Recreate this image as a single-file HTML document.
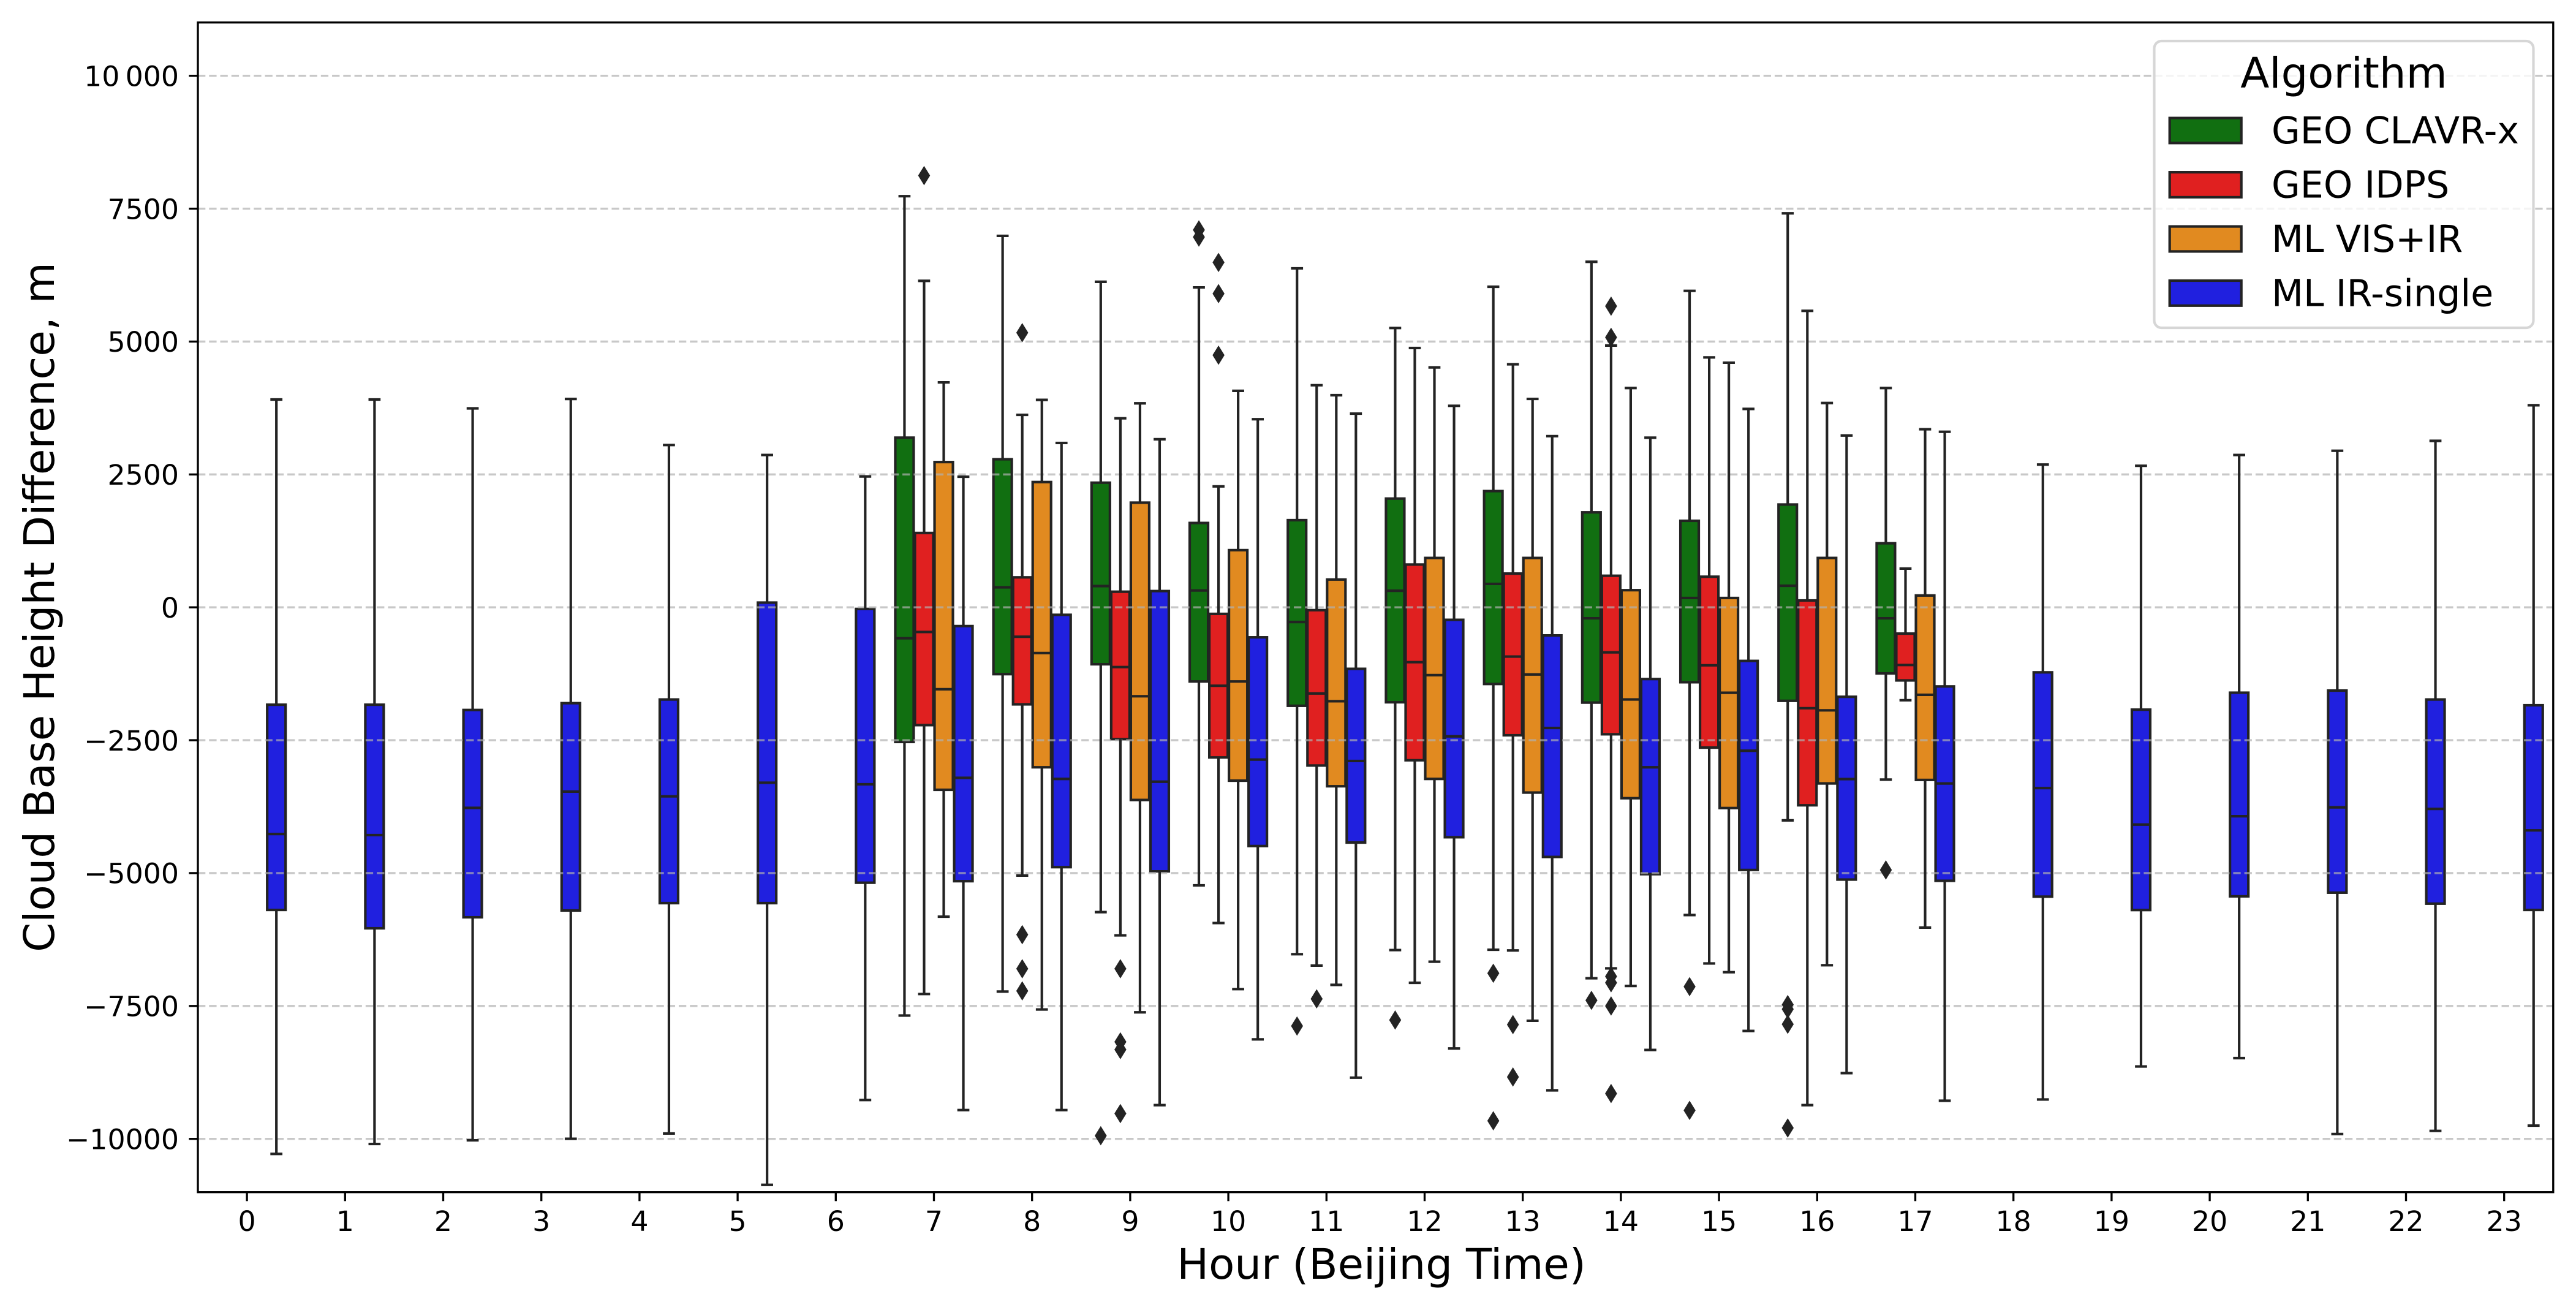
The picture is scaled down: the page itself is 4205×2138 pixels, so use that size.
<!DOCTYPE html>
<html lang="en">
<head>
<meta charset="utf-8">
<title>Cloud Base Height Difference by Hour</title>
<style>
  html, body { margin: 0; padding: 0; background: #fff; }
  svg { display: block; }
  text { font-family: "DejaVu Sans", "Liberation Sans", sans-serif; fill: #000; }
</style>
</head>
<body>
<svg id="chart" xmlns="http://www.w3.org/2000/svg" width="4205" height="2138" viewBox="0 0 4205 2138">
  <rect x="0" y="0" width="4205" height="2138" fill="#ffffff"/>
  <g id="box-layer"></g>
  <g id="grid-layer"></g>
  <g id="line-layer"></g>
  <rect x="323" y="36.7" width="3844.8" height="1909" fill="none" stroke="#000" stroke-width="3.33"/>
  <g id="x-axis"></g>
  <g id="y-axis"></g>
  <text x="2255" y="2087" font-size="69" text-anchor="middle">Hour (Beijing Time)</text>
  <text transform="translate(88 991) rotate(-90)" font-size="69" text-anchor="middle">Cloud Base Height Difference, m</text>
  <g>
    <rect x="3516.5" y="67" width="619" height="468" rx="12" ry="12" fill="#ffffff" fill-opacity="0.8" stroke="#cccccc" stroke-opacity="0.8" stroke-width="4.17"/>
    <text x="3826" y="143" font-size="68.9" text-anchor="middle">Algorithm</text>
    <g>
      <rect x="3541.7" y="192.6" width="117" height="40.8" fill="#116f11" stroke="#232323" stroke-width="4.17"/>
      <text x="3708" y="234" font-size="60.3">GEO CLAVR-x</text>
    </g>
    <g>
      <rect x="3541.7" y="281.1" width="117" height="40.8" fill="#e02020" stroke="#232323" stroke-width="4.17"/>
      <text x="3708" y="322.5" font-size="60.3">GEO IDPS</text>
    </g>
    <g>
      <rect x="3541.7" y="369.6" width="117" height="40.8" fill="#e18a20" stroke="#232323" stroke-width="4.17"/>
      <text x="3708" y="411" font-size="60.3">ML VIS+IR</text>
    </g>
    <g>
      <rect x="3541.7" y="458" width="117" height="40.8" fill="#2020df" stroke="#232323" stroke-width="4.17"/>
      <text x="3708" y="499.5" font-size="60.3">ML IR-single</text>
    </g>
  </g>
</svg>
<script>
// ---- Categories and tick labels ----
const allHours = [0,1,2,3,4,5,6,7,8,9,10,11,12,13,14,15,16,17,18,19,20,21,22,23];
const daytimeHours = [7,8,9,10,11,12,13,14,15,16,17];
const yTickValues = [10000,7500,5000,2500,0,-2500,-5000,-7500,-10000];
const yTickLabels = ["10\u2009000","7500","5000","2500","0","\u22122500","\u22125000","\u22127500","\u221210000"];

// ---- GEO CLAVR-x (hours 7-17) ----
const clavrLow    = [-7680,-7229,-5734,-5230,-6526,-6448,-6442,-6978,-5789,-4008,-3241];
const clavrQ1     = [-2533,-1257,-1071,-1395,-1852,-1786,-1442,-1792,-1409,-1759,-1243];
const clavrMedian = [-582,376,400,317,-276,312,441,-206,176,406,-206];
const clavrQ3     = [3192,2786,2345,1587,1640,2046,2187,1787,1628,1934,1205];
const clavrHigh   = [7735,6989,6125,6019,6378,5255,6031,6501,5954,7412,4126];
const clavrOutlierHours  = [9,10,10,11,12,13,13,14,15,15,16,16,16,16,17];
const clavrOutlierValues = [-9941,7101,6966,-7877,-7764,-6884,-9660,-7394,-7136,-9464,-7474,-7560,-7844,-9795,-4941];

// ---- GEO IDPS (hours 7-17) ----
const idpsLow    = [-7275,-5046,-6171,-5939,-6740,-7064,-6455,-6792,-6700,-9365,-1748];
const idpsQ1     = [-2216,-1825,-2480,-2824,-2976,-2877,-2407,-2388,-2639,-3724,-1375];
const idpsMedian = [-464,-553,-1124,-1475,-1620,-1032,-926,-847,-1091,-1898,-1085];
const idpsQ3     = [1399,564,294,-123,-53,805,635,594,576,129,-494];
const idpsHigh   = [6142,3621,3556,2275,4179,4879,4573,4926,4702,5578,729];
const idpsOutlierHours  = [7,8,8,8,8,9,9,9,9,10,10,10,11,13,13,14,14,14,14,14,14];
const idpsOutlierValues = [8123,5167,-6158,-6799,-7216,-6799,-8175,-8320,-9524,6489,5902,4744,-7366,-7850,-8836,5666,5079,-6944,-7063,-7500,-9147];

// ---- ML VIS+IR (hours 7-17) ----
const visLow    = [-5820,-7566,-7619,-7183,-7103,-6667,-7778,-7123,-6864,-6733,-6025];
const visQ1     = [-3433,-3009,-3624,-3261,-3366,-3228,-3485,-3591,-3776,-3313,-3247];
const visMedian = [-1541,-860,-1673,-1395,-1766,-1276,-1263,-1733,-1607,-1938,-1645];
const visQ3     = [2733,2357,1969,1076,523,929,929,323,176,929,223];
const visHigh   = [4232,3903,3838,4073,3991,4514,3921,4126,4602,3844,3350];

// ---- ML IR-single (hours 0-23) ----
const irLow    = [-10283,-10096,-10027,-9998,-9899,-10865,-9269,-9458,-9458,-9365,-8128,-8849,-8300,-9087,-8327,-7970,-8763,-9283,-9259,-8638,-8481,-9909,-9850,-9751];
const irQ1     = [-5693,-6038,-5831,-5703,-5565,-5565,-5181,-5152,-4888,-4967,-4491,-4425,-4325,-4696,-5020,-4941,-5122,-5145,-5443,-5695,-5437,-5368,-5575,-5693];
const irMedian = [-4265,-4285,-3773,-3467,-3556,-3300,-3329,-3208,-3228,-3280,-2864,-2890,-2427,-2269,-3009,-2698,-3231,-3314,-3400,-4087,-3930,-3763,-3792,-4196];
const irQ3     = [-1832,-1832,-1931,-1803,-1734,89,-30,-353,-141,306,-564,-1157,-235,-529,-1349,-1008,-1683,-1488,-1223,-1925,-1606,-1566,-1734,-1842];
const irHigh   = [3910,3910,3743,3920,3053,2866,2462,2457,3092,3162,3539,3644,3791,3221,3192,3733,3233,3303,2686,2663,2866,2945,3132,3802];

// ---- Axis functions ----
const NS = "http://www.w3.org/2000/svg";
function xScale(hour) { return 403.1 + 160.2 * hour; }
function yScale(value) { return 991.2 - value * 0.08675; }

const LW = 4.17;
const EDGE = "#232323";
const BOX_W = 30;
const CAP_W = 15.5;

const boxLayer = document.getElementById("box-layer");
const gridLayer = document.getElementById("grid-layer");
const lineLayer = document.getElementById("line-layer");
const xAxis = document.getElementById("x-axis");
const yAxis = document.getElementById("y-axis");

function make(tag, attrs, parent) {
  const el = document.createElementNS(NS, tag);
  for (const k in attrs) el.setAttribute(k, attrs[k]);
  parent.appendChild(el);
  return el;
}

function drawSeries(slug, color, offset, hours, low, q1, med, q3, high, outHours, outValues) {
  hours.forEach(function (hour, i) {
    const cx = xScale(hour + offset);
    const left = cx - BOX_W / 2;

    const box = make("rect", { x: left, y: yScale(q3[i]), width: BOX_W, height: yScale(q1[i]) - yScale(q3[i]), fill: color, stroke: EDGE, "stroke-width": LW }, boxLayer);
    
    

    const upper = make("line", { x1: cx, x2: cx, y1: yScale(q3[i]), y2: yScale(high[i]), stroke: EDGE, "stroke-width": LW }, lineLayer);
    
    

    const lower = make("line", { x1: cx, x2: cx, y1: yScale(q1[i]), y2: yScale(low[i]), stroke: EDGE, "stroke-width": LW }, lineLayer);
    
    

    const capTop = make("line", { x1: cx - CAP_W / 2, x2: cx + CAP_W / 2, y1: yScale(high[i]), y2: yScale(high[i]), stroke: EDGE, "stroke-width": LW, "stroke-linecap": "square" }, lineLayer);
    
    

    const capBottom = make("line", { x1: cx - CAP_W / 2, x2: cx + CAP_W / 2, y1: yScale(low[i]), y2: yScale(low[i]), stroke: EDGE, "stroke-width": LW, "stroke-linecap": "square" }, lineLayer);
    
    

    const median = make("line", { x1: left, x2: left + BOX_W, y1: yScale(med[i]), y2: yScale(med[i]), stroke: EDGE, "stroke-width": LW }, lineLayer);
    
    
  });

  outHours.forEach(function (hour, i) {
    const cx = xScale(hour + offset);
    const cy = yScale(outValues[i]);
    const pts = [cx, cy - 15.8, cx + 9.8, cy, cx, cy + 15.8, cx - 9.8, cy].join(" ");
    const flier = make("polygon", { points: pts, fill: EDGE }, lineLayer);
    
    
  });
}

// Gridlines
yTickValues.forEach(function (value, i) {
  const y = yScale(value);
  const grid = make("line", { x1: 323, x2: 4167.8, y1: y, y2: y, stroke: "#b0b0b0", "stroke-opacity": 0.7, "stroke-width": 3.33, "stroke-dasharray": "12.3 5.955" }, gridLayer);
  
  

  const tick = make("line", { x1: 323, x2: 308.4, y1: y, y2: y, stroke: "#000", "stroke-width": 3.33 }, yAxis);
  
  

  const label = make("text", { x: 292, y: y + 16.7, "font-size": 45.8, "text-anchor": "end" }, yAxis);
  label.textContent = yTickLabels[i];
  
  
});

// X axis
allHours.forEach(function (hour) {
  const x = xScale(hour);
  const tick = make("line", { x1: x, x2: x, y1: 1945.7, y2: 1960.3, stroke: "#000", "stroke-width": 3.33 }, xAxis);
  
  

  const label = make("text", { x: x, y: 2009, "font-size": 45.8, "text-anchor": "middle" }, xAxis);
  label.textContent = String(hour);
  
  
});

// Series
drawSeries("geo-clavr-x", "#116f11", -0.3, daytimeHours, clavrLow, clavrQ1, clavrMedian, clavrQ3, clavrHigh, clavrOutlierHours, clavrOutlierValues);
drawSeries("geo-idps", "#e02020", -0.1, daytimeHours, idpsLow, idpsQ1, idpsMedian, idpsQ3, idpsHigh, idpsOutlierHours, idpsOutlierValues);
drawSeries("ml-vis-ir", "#e18a20", 0.1, daytimeHours, visLow, visQ1, visMedian, visQ3, visHigh, [], []);
drawSeries("ml-ir-single", "#2020df", 0.3, allHours, irLow, irQ1, irMedian, irQ3, irHigh, [], []);
</script>
</body>
</html>
